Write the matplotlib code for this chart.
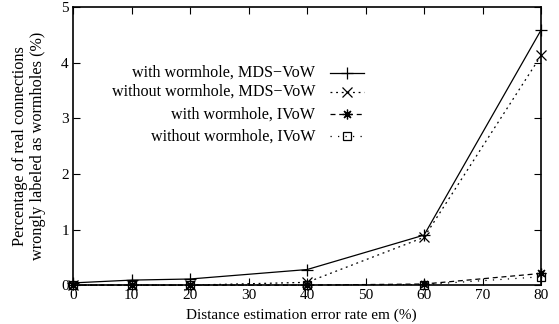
import matplotlib.pyplot as plt
from matplotlib.lines import Line2D

plt.rcParams['font.family'] = ['Liberation Serif', 'DejaVu Serif']

# Distance estimation error rate (%)
error_rate = [0, 10, 20, 40, 60, 80]

# Percentage of real connections wrongly labeled as wormholes (%)
with_wh_mds = [0.04, 0.09, 0.11, 0.28, 0.90, 4.59]
without_wh_mds = [0.0, 0.0, 0.0, 0.05, 0.86, 4.13]
with_wh_ivow = [0.0, 0.0, 0.0, 0.0, 0.02, 0.21]
without_wh_ivow = [0.0, 0.0, 0.0, 0.0, 0.01, 0.15]

labels = ['with wormhole, MDS\u2212VoW', 'without wormhole, MDS\u2212VoW',
          'with wormhole, IVoW', 'without wormhole, IVoW']

fig = plt.figure(figsize=(5.59, 3.24), dpi=100)
ax = fig.add_axes([0.1306, 0.12, 0.8374, 0.858])

styles = [
    dict(linestyle='-', marker='+', markersize=9, markeredgewidth=0.9),
    dict(linestyle=(0, (1.5, 3)), marker='x', markersize=6.5, markeredgewidth=0.9),
    dict(linestyle=(0, (4, 3)), marker=(8, 2, 0), markersize=7, markeredgewidth=0.9),
    dict(linestyle=(0, (1, 5)), marker='s', markersize=6, markeredgewidth=0.9,
         markerfacecolor='none'),
]
series = [with_wh_mds, without_wh_mds, with_wh_ivow, without_wh_ivow]

for vals, st in zip(series, styles):
    ax.plot(error_rate, vals, color='black', linewidth=0.9, clip_on=False, **st)

ax.set_xlim(0, 80)
ax.set_ylim(0, 5)
ax.set_xticks(range(0, 81, 10))
ax.set_yticks(range(0, 6))
ax.tick_params(direction='in', top=True, right=True, length=5, width=0.8,
               labelsize=11, pad=3)
for sp in ax.spines.values():
    sp.set_linewidth(1.2)

ax.set_xlabel('Distance estimation error rate em (%)', fontsize=11)
ax.xaxis.set_label_coords(0.487, -0.085)
ax.set_ylabel('Percentage of real connections\nwrongly labeled as wormholes (%)',
              fontsize=11.7, linespacing=1.15)
ax.yaxis.set_label_coords(-0.058, 0.5)

# gnuplot style key: right-aligned text, sample line on the right
key_y = [0.764, 0.695, 0.615, 0.535]
for lab, st, y in zip(labels, styles, key_y):
    ax.text(0.518, y, lab, transform=ax.transAxes, ha='right', va='center',
            fontsize=11.6)
    ax.add_line(Line2D([0.548, 0.622], [y, y], transform=ax.transAxes,
                       color='black', linewidth=0.9, linestyle=st['linestyle']))
    mk = {k: v for k, v in st.items() if k != 'linestyle'}
    ax.add_line(Line2D([0.585], [y], transform=ax.transAxes, color='black',
                       linestyle='none', **mk))

fig.savefig('out.png', dpi=100)
